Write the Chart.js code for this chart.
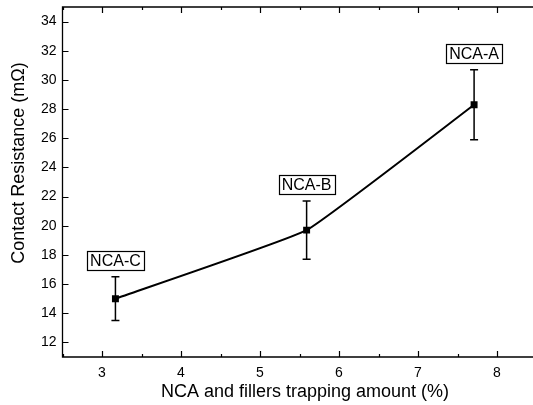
<!DOCTYPE html>
<html><head><meta charset="utf-8">
<script src="https://cdn.jsdelivr.net/npm/chart.js@4/dist/chart.umd.min.js"></script>
<style>
html,body{margin:0;padding:0;background:#fff;overflow:hidden;width:533px;height:405px}
</style></head>
<body><canvas id="c" width="533" height="405"></canvas>
<script>
const labels = ["NCA-C", "NCA-B", "NCA-A"];
const xValues = [3.17, 5.59, 7.71];
const yValues = [15.0, 19.7, 28.3];
const yErrors = [1.5, 2.0, 2.4];
const xTicks = [3, 4, 5, 6, 7, 8];
const yTicks = [12, 14, 16, 18, 20, 22, 24, 26, 28, 30, 32, 34];
const xTitle = 'NCA and fillers trapping amount (%)';
const yTitle = 'Contact Resistance (mΩ)';

const FONT = "'Liberation Sans', Arial, sans-serif";

const points = xValues.map((x, i) => ({ x: x, y: yValues[i] }));

const framePlugin = {
  id: 'frame',
  afterDatasetsDraw(chart) {
    const ctx = chart.ctx, a = chart.chartArea;
    const xs = chart.scales.x, ys = chart.scales.y;
    ctx.save();
    ctx.strokeStyle = '#000';
    ctx.lineWidth = 1.3;
    ctx.beginPath();
    ctx.moveTo(chart.width + 5, a.top); ctx.lineTo(a.left, a.top);
    ctx.lineTo(a.left, a.bottom); ctx.lineTo(chart.width + 5, a.bottom);
    ctx.stroke();
    ctx.lineWidth = 1.2;
    ctx.beginPath();
    xs.ticks.forEach(t => {
      const px = Math.round(xs.getPixelForValue(t.value)) + 0.5;
      const major = Math.abs(t.value - Math.round(t.value)) < 1e-6;
      const len = major ? 6 : 3;
      ctx.moveTo(px, a.bottom); ctx.lineTo(px, a.bottom - len);
      ctx.moveTo(px, a.top); ctx.lineTo(px, a.top + len);
    });
    ys.ticks.forEach(t => {
      const py = Math.round(ys.getPixelForValue(t.value)) + 0.5;
      ctx.moveTo(a.left, py); ctx.lineTo(a.left + 6, py);
    });
    ctx.stroke();

    const meta = chart.getDatasetMeta(0);
    ctx.lineWidth = 1.5;
    meta.data.forEach((el, i) => {
      const px = el.x;
      const top = ys.getPixelForValue(yValues[i] + yErrors[i]);
      const bot = ys.getPixelForValue(yValues[i] - yErrors[i]);
      ctx.beginPath();
      ctx.moveTo(px, top); ctx.lineTo(px, bot);
      ctx.moveTo(px - 4, top); ctx.lineTo(px + 4, top);
      ctx.moveTo(px - 4, bot); ctx.lineTo(px + 4, bot);
      ctx.stroke();

      ctx.font = '16px ' + FONT;
      const w = ctx.measureText(labels[i]).width;
      const bw = w + 6, bh = 19;
      const bx = px - bw / 2, by = top - 7 - bh;
      ctx.fillStyle = '#fff';
      ctx.fillRect(bx, by, bw, bh);
      ctx.lineWidth = 1.2;
      ctx.strokeRect(Math.round(bx) + 0.5, Math.round(by) + 0.5, Math.round(bw), Math.round(bh));
      ctx.fillStyle = '#000';
      ctx.textAlign = 'center';
      ctx.textBaseline = 'middle';
      ctx.fillText(labels[i], px, by + bh / 2 + 1);
      ctx.lineWidth = 1.5;
    });

    ctx.fillStyle = '#000';
    ctx.font = '18px ' + FONT;
    ctx.textAlign = 'center';
    ctx.textBaseline = 'middle';
    ctx.fillText(xTitle, 305, 392);
    ctx.save();
    ctx.translate(19, 163);
    ctx.rotate(-Math.PI / 2);
    ctx.fillText(yTitle, 0, 0);
    ctx.restore();
    ctx.restore();
  }
};

new Chart(document.getElementById('c'), {
  type: 'scatter',
  data: {
    datasets: [{
      data: points,
      showLine: true,
      borderColor: '#000',
      backgroundColor: '#000',
      borderWidth: 2,
      tension: 0.1,
      pointStyle: 'rect',
      pointRadius: 3.5,
      pointHoverRadius: 3.5
    }]
  },
  options: {
    responsive: false,
    animation: false,
    events: [],
    layout: { padding: { top: 7, right: 0, left: 0, bottom: 0 } },
    plugins: { legend: { display: false }, tooltip: { enabled: false } },
    scales: {
      x: {
        type: 'linear', min: 2.5, max: 8.386,
        afterBuildTicks(s) {
          const t = [];
          for (let v = 2.5; v <= 8 + 1e-9; v += 0.5) t.push({ value: v });
          s.ticks = t;
        },
        afterFit(s) { s.height = 48; s.paddingLeft = 0; s.paddingRight = 0; },
        grid: { display: false, drawTicks: false },
        border: { display: false },
        ticks: {
          color: '#000', padding: 8,
          font: { family: FONT, size: 14 },
          autoSkip: false, maxRotation: 0,
          callback: v => (xTicks.includes(v) ? String(v) : '')
        },
        title: { display: false }
      },
      y: {
        type: 'linear', min: 11, max: 35,
        afterBuildTicks(s) { s.ticks = yTicks.map(v => ({ value: v })); },
        afterFit(s) { s.width = 62.5; s.paddingTop = 0; s.paddingBottom = 0; },
        grid: { display: false, drawTicks: false },
        border: { display: false },
        ticks: {
          color: '#000', padding: 6,
          font: { family: FONT, size: 14 }
        },
        title: { display: false }
      }
    }
  },
  plugins: [framePlugin]
});
</script>
</body></html>
